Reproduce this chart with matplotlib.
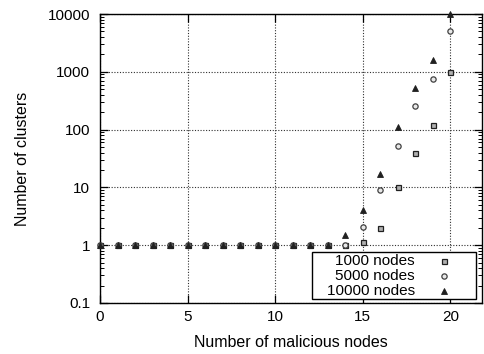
import matplotlib
matplotlib.use("Agg")
import matplotlib.pyplot as plt
from matplotlib.patches import Rectangle

plt.rcParams['font.family'] = ['Liberation Sans', 'DejaVu Sans']

# Number of malicious nodes
x = list(range(0, 21))

# Number of clusters for each network size
clusters_1000 = [1] * 15 + [1.15, 2.0, 10, 40, 120, 1000]
clusters_5000 = [1] * 15 + [2.1, 9, 52, 260, 750, 5000]
clusters_10000 = [1] * 14 + [1.5, 4.1, 17, 110, 530, 1600, 10000]

series_labels = ["1000 nodes", "5000 nodes", "10000 nodes"]
xticks = [0, 5, 10, 15, 20]
yticks = [0.1, 1, 10, 100, 1000, 10000]
ytick_labels = ["0.1", "1", "10", "100", "1000", "10000"]

fig = plt.figure(figsize=(4.84, 3.54), dpi=100)
ax = fig.add_axes([100 / 484, 1 - 303 / 354, 382 / 484, 289 / 354])

styles = [
    dict(marker='s', ms=3.6, mfc='#b0b0b0', mec='#202020', mew=0.9),
    dict(marker='o', ms=3.8, mfc='#e8e8e8', mec='#404040', mew=0.9),
    dict(marker='^', ms=4.2, mfc='#202020', mec='#202020', mew=0.6),
]
data = [clusters_1000, clusters_5000, clusters_10000]

ax.set_yscale('log')
ax.set_xlim(0, 21.8)
ax.set_ylim(0.1, 10000)
ax.set_xticks(xticks)
ax.set_xticklabels([str(t) for t in xticks])
ax.set_yticks(yticks)
ax.set_yticklabels(ytick_labels)

ax.grid(True, which='major', linestyle=(0, (1, 1.5)), color='#303030', linewidth=0.8)
ax.set_axisbelow(True)

for vals, st in zip(data, styles):
    ax.plot(x, vals, linestyle='none', clip_on=False, zorder=3, **st)

for s in ax.spines.values():
    s.set_linewidth(1.0)
    s.set_color('black')

ax.tick_params(which='both', direction='in', top=True, right=True, labelsize=11, colors='black')
ax.tick_params(which='major', length=6, width=0.9)
ax.tick_params(axis='y', which='major', pad=7)
ax.tick_params(axis='x', which='major', pad=5)
ax.minorticks_off()
ax.yaxis.set_minor_locator(matplotlib.ticker.LogLocator(base=10, subs=range(2, 10)))
ax.yaxis.set_minor_formatter(matplotlib.ticker.NullFormatter())
ax.tick_params(axis='y', which='minor', direction='in', left=True, right=True, length=3, width=0.7)

ax.set_xlabel("Number of malicious nodes", fontsize=11.5, labelpad=8)
ax.set_ylabel("Number of clusters", fontsize=11.5, labelpad=13)

# Key box in the lower right corner, text right-aligned before the symbol
box = Rectangle((0.555, 0.014), 0.429, 0.162, transform=ax.transAxes,
                facecolor='white', edgecolor='black', linewidth=1.0, zorder=4)
ax.add_patch(box)
row_y = [0.146, 0.0945, 0.0415]
for lbl, st, yy in zip(series_labels, styles, row_y):
    ax.text(0.8246, yy, lbl, transform=ax.transAxes, ha='right', va='center',
            fontsize=11, zorder=5)
    ax.plot([0.9005], [yy], transform=ax.transAxes, linestyle='none',
            clip_on=False, zorder=5, **st)

fig.savefig("out.png", dpi=100)
